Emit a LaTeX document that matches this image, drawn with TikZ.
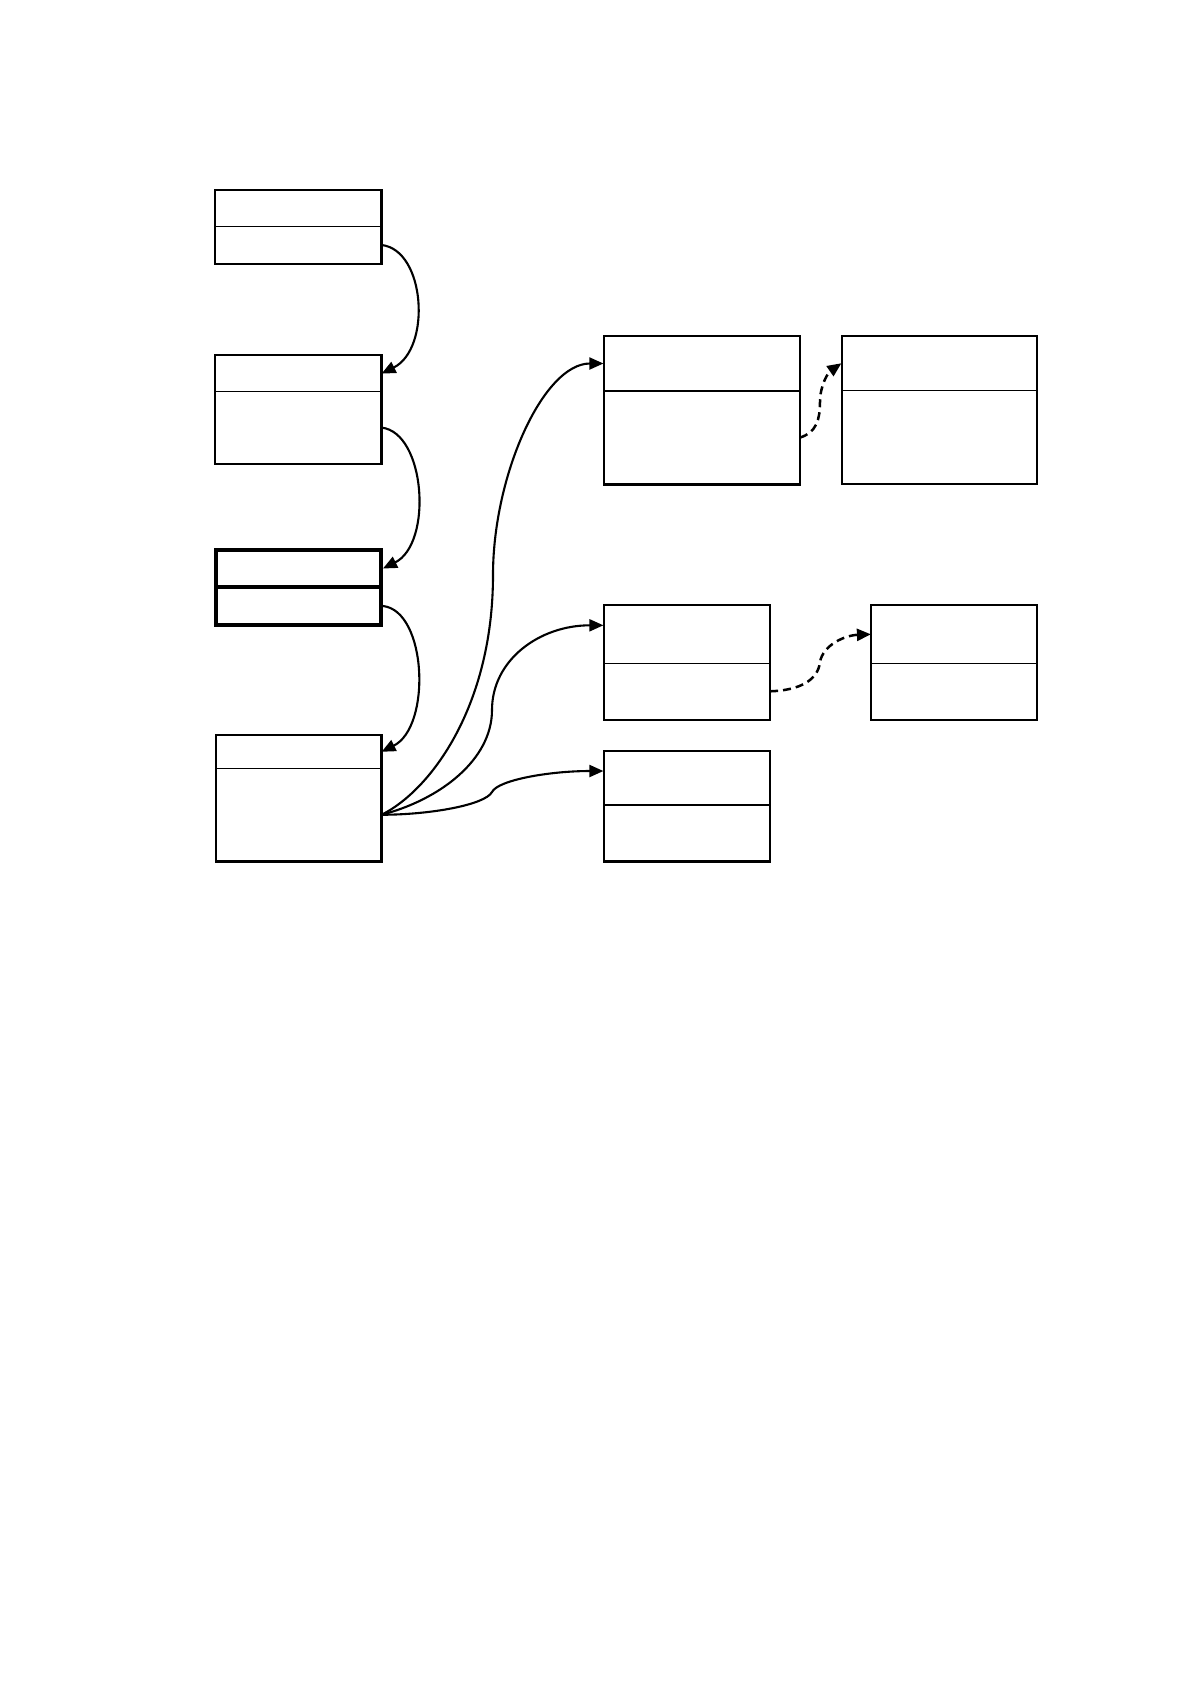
\documentclass[tikz,border=0pt]{standalone}
\usetikzlibrary{arrows.meta,fit,calc}
\begin{document}
\begin{tikzpicture}[x=0.5pt,y=-0.5pt,
  cell/.style={draw, line width=0.6pt, inner sep=0pt, rectangle},
  thickcell/.style={draw, line width=2pt, inner sep=0pt, rectangle},
  outer/.style={draw, line width=0.9pt},
  link/.style={line width=1.05pt, -{Triangle[length=7pt,width=6pt]}},
  dlink/.style={link, line width=1.25pt, dash pattern=on 4pt off 2.5pt}]
\useasboundingbox (0,0) rectangle (1191,1683);

% left column
\node[cell, fit={(215,190) (381,226.5)}] (A1) {};
\node[cell, fit={(215,226.5) (381,263.5)}] (A2) {};
\draw[outer] (A1.north west) rectangle (A2.south east);

\node[cell, fit={(215,355.5) (381,391.7)}] (B1) {};
\node[cell, fit={(215,391.7) (381,463.5)}] (B2) {};
\draw[outer] (B1.north west) rectangle (B2.south east);

\node[thickcell, fit={(216,550) (381,587)}] (C1) {};
\node[thickcell, fit={(216,587) (381,625)}] (C2) {};

\node[cell, fit={(216,735) (381,768.5)}] (D1) {};
\node[cell, fit={(216,768.5) (381,861)}] (D2) {};
\draw[outer] (D1.north west) rectangle (D2.south east);

% right side
\node[cell, fit={(604,336) (799.5,391)}] (E1) {};
\node[cell, fit={(604,391) (799.5,484)}] (E2) {};
\draw[outer] (E1.north west) rectangle (E2.south east);

\node[cell, fit={(842,336) (1036.7,390.5)}] (F1) {};
\node[cell, fit={(842,390.5) (1036.7,483.5)}] (F2) {};
\draw[outer] (F1.north west) rectangle (F2.south east);

\node[cell, fit={(604,605.3) (769.5,663.3)}] (G1) {};
\node[cell, fit={(604,663.3) (769.5,719.3)}] (G2) {};
\draw[outer] (G1.north west) rectangle (G2.south east);

\node[cell, fit={(871.5,605.3) (1036.7,663.3)}] (H1) {};
\node[cell, fit={(871.5,663.3) (1036.7,719.3)}] (H2) {};
\draw[outer] (H1.north west) rectangle (H2.south east);

\node[cell, fit={(604,751) (769.5,805)}] (I1) {};
\node[cell, fit={(604,805) (769.5,861)}] (I2) {};
\draw[outer] (I1.north west) rectangle (I2.south east);

% chain arrows
\draw[link] (A2.east) .. controls +(44,5) and +(50,-25) .. (B1.east);
\draw[link] (B2.east) .. controls +(44,5) and +(50,-25) .. (C1.east);
\draw[link] (C2.east) .. controls +(44,5) and +(50,-25) .. (D1.east);

% fan-out from D
\draw[link] (D2.east) .. controls +(50,-25) and +(0,130) .. (493,575)
  .. controls +(0,-100) and +(-60,0) .. (E1.west);
\draw[link] (D2.east) .. controls +(58,-15) and +(0,50) .. (492,710)
  .. controls +(0,-50) and +(-64,0) .. ([yshift=4.5pt]G1.west);
\draw[link] (D2.east) .. controls +(48,0) and +(-7,13) .. (492,792)
  .. controls +(6,-12) and +(-54,0) .. ([yshift=3.5pt]I1.west);

% dashed arrows
\draw[dlink] (E2.east) .. controls +(16,-5) and +(0,18) .. (820,402)
  .. controls +(0,-17) and +(-13,9) .. (F1.west);
\draw[dlink] (G2.east) .. controls +(30,-1) and +(-2,18) .. (820,662)
  .. controls +(3,-17) and +(-26,1) .. (H1.west);
\end{tikzpicture}
\end{document}
